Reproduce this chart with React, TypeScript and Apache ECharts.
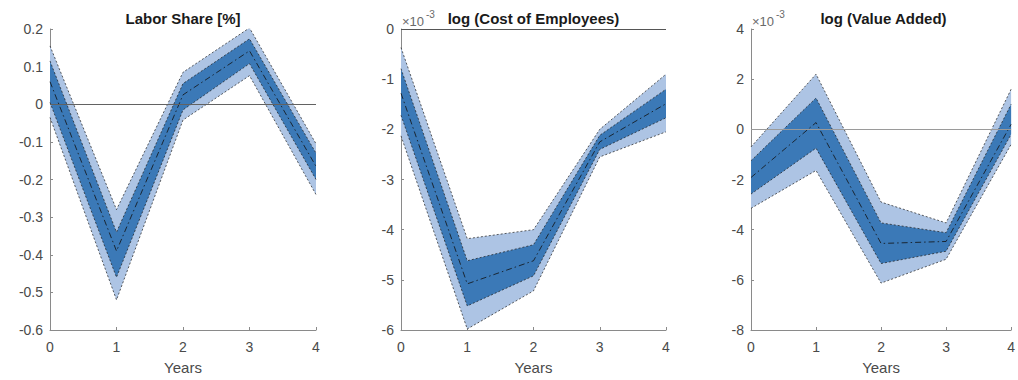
import React, { useEffect, useRef } from "react";
import * as echarts from "echarts";

// Horizon (years after the shock)
const years = ["0", "1", "2", "3", "4"];

// Labor share [%]: median response with inner and outer confidence bands
const lsOuterHigh = [0.155, -0.28, 0.085, 0.203, -0.105];
const lsInnerHigh = [0.115, -0.34, 0.055, 0.174, -0.13];
const lsMedian = [0.06, -0.39, 0.025, 0.142, -0.165];
const lsInnerLow = [0.005, -0.46, -0.015, 0.108, -0.2];
const lsOuterLow = [-0.035, -0.52, -0.042, 0.076, -0.24];

// log (Cost of Employees), in units of 10^-3
const ceOuterHigh = [-0.37, -4.18, -4.0, -2.0, -0.9];
const ceInnerHigh = [-0.79, -4.62, -4.3, -2.12, -1.2];
const ceMedian = [-1.28, -5.08, -4.62, -2.25, -1.49];
const ceInnerLow = [-1.72, -5.52, -4.92, -2.4, -1.77];
const ceOuterLow = [-2.13, -5.98, -5.22, -2.55, -2.05];

// log (Value Added), in units of 10^-3
const vaOuterHigh = [-0.7, 2.2, -2.9, -3.73, 1.6];
const vaInnerHigh = [-1.25, 1.25, -3.73, -4.12, 1.0];
const vaMedian = [-1.92, 0.27, -4.55, -4.47, 0.2];
const vaInnerLow = [-2.58, -0.75, -5.35, -4.86, -0.2];
const vaOuterLow = [-3.15, -1.64, -6.13, -5.18, -0.6];

// Axis settings per panel
const panelTitles = ["Labor Share [%]", "log (Cost of Employees)", "log (Value Added)"];
const yMins = [-0.6, -6, -8];
const yMaxs = [0.2, 0, 4];
const yIntervals = [0.1, 1, 2];
const xAxisName = "Years";
const exponentBase = "\u00d710";
const exponentPower = "-3";

const FONT = "'Liberation Sans', Arial, Helvetica, sans-serif";
const LIGHT = "#adc4e4";
const DARK = "#3b79b7";
const EDGE = "#1c1c1c";
const AXIS = "#8a8a8a";
const LABEL = "#4a4a4a";

const grids = [
  { left: 50, top: 29, width: 266, height: 305 },
  { left: 401, top: 29, width: 265, height: 305 },
  { left: 751, top: 29, width: 265, height: 305 },
];
const zeroLineColors = ["#626262", "#555555", "#9a9a9a"];

function diff(hi: number[], lo: number[]) {
  return hi.map((v, i) => v - lo[i]);
}

function formatTick(panel: number) {
  return (v: number) => {
    if (Math.abs(v) < 1e-9) return "0";
    if (panel === 0) return String(Math.round(v * 10) / 10);
    return String(Math.round(v));
  };
}

// A band is a hidden-fill lower line plus a stacked (upper - lower) line whose
// area fills the gap between the two bounds.
function bandSeries(idx: number, name: string, hi: number[], lo: number[], fill: string) {
  const edge = { color: EDGE, width: 0.7, type: [2, 2] as number[] };
  const common = {
    type: "line",
    xAxisIndex: idx,
    yAxisIndex: idx,
    stack: name + idx,
    stackStrategy: "all",
    symbol: "none",
    silent: true,
    lineStyle: edge,
  };
  return [
    { ...common, name: name + "-low", data: lo.slice() },
    { ...common, name: name + "-high", data: diff(hi, lo), areaStyle: { color: fill, opacity: 1 } },
  ];
}

function buildOption() {
  const panels = [
    { oh: lsOuterHigh, ih: lsInnerHigh, md: lsMedian, il: lsInnerLow, ol: lsOuterLow },
    { oh: ceOuterHigh, ih: ceInnerHigh, md: ceMedian, il: ceInnerLow, ol: ceOuterLow },
    { oh: vaOuterHigh, ih: vaInnerHigh, md: vaMedian, il: vaInnerLow, ol: vaOuterLow },
  ];

  const xAxis = grids.map((_, i) => ({
    type: "category",
    gridIndex: i,
    data: years,
    boundaryGap: false,
    name: xAxisName,
    nameLocation: "middle",
    nameGap: 30,
    nameTextStyle: { color: LABEL, fontSize: 15, fontFamily: FONT },
    axisLine: { show: true, onZero: false, lineStyle: { color: AXIS, width: 1 } },
    axisTick: { show: true, inside: true, length: 3, lineStyle: { color: AXIS } },
    axisLabel: { color: LABEL, fontSize: 14, fontFamily: FONT, margin: 10 },
    splitLine: { show: false },
  }));

  const yAxis = grids.map((_, i) => ({
    type: "value",
    gridIndex: i,
    min: yMins[i],
    max: yMaxs[i],
    interval: yIntervals[i],
    axisLine: { show: true, onZero: false, lineStyle: { color: AXIS, width: 1 } },
    axisTick: { show: true, inside: true, length: 3, lineStyle: { color: AXIS } },
    axisLabel: {
      color: LABEL,
      fontSize: 14,
      fontFamily: FONT,
      margin: 7,
      formatter: formatTick(i),
    },
    splitLine: { show: false },
  }));

  const series: any[] = [];
  panels.forEach((p, i) => {
    series.push(...bandSeries(i, "outer", p.oh, p.ol, LIGHT));
    series.push(...bandSeries(i, "inner", p.ih, p.il, DARK));
    series.push({
      type: "line",
      name: "median",
      xAxisIndex: i,
      yAxisIndex: i,
      data: p.md.slice(),
      symbol: "none",
      silent: true,
      z: 3,
      lineStyle: { color: "#111", width: 0.8, type: [6, 3, 1.5, 3] },
      markLine: {
        silent: true,
        symbol: "none",
        label: { show: false },
        lineStyle: { color: zeroLineColors[i], width: 1, type: "solid" },
        data: [{ yAxis: 0 }],
      },
    });
  });

  const graphic: any[] = [];
  grids.forEach((g, i) => {
    graphic.push({
      type: "text",
      x: g.left + g.width / 2,
      y: 18,
      style: {
        text: panelTitles[i],
        fill: "#1a1a1a",
        font: `bold 15px ${FONT}`,
        textAlign: "center",
        textVerticalAlign: "middle",
      },
    });
  });
  [1, 2].forEach((i) => {
    const g = grids[i];
    graphic.push({
      type: "text",
      x: g.left + 1,
      y: 21,
      style: {
        text: exponentBase,
        fill: "#6a6a6a",
        font: `13px ${FONT}`,
        textAlign: "left",
        textVerticalAlign: "middle",
      },
    });
    graphic.push({
      type: "text",
      x: g.left + 25,
      y: 14,
      style: {
        text: exponentPower,
        fill: "#6a6a6a",
        font: `10px ${FONT}`,
        textAlign: "left",
        textVerticalAlign: "middle",
      },
    });
  });

  return {
    animation: false,
    backgroundColor: "#ffffff",
    textStyle: { fontFamily: FONT },
    grid: grids.map((g) => ({ ...g, containLabel: false })),
    xAxis,
    yAxis,
    series,
    graphic,
  };
}

export default function App() {
  const ref = useRef<HTMLDivElement>(null);
  useEffect(() => {
    if (!ref.current) return;
    const chart = echarts.init(ref.current, null, { renderer: "svg" });
    chart.setOption(buildOption() as any);
    return () => chart.dispose();
  }, []);
  return (
    <div
      ref={ref}
      style={{
        position: "fixed",
        left: 0,
        top: 0,
        width: 1018,
        height: 380,
        background: "#ffffff",
      }}
    />
  );
}
